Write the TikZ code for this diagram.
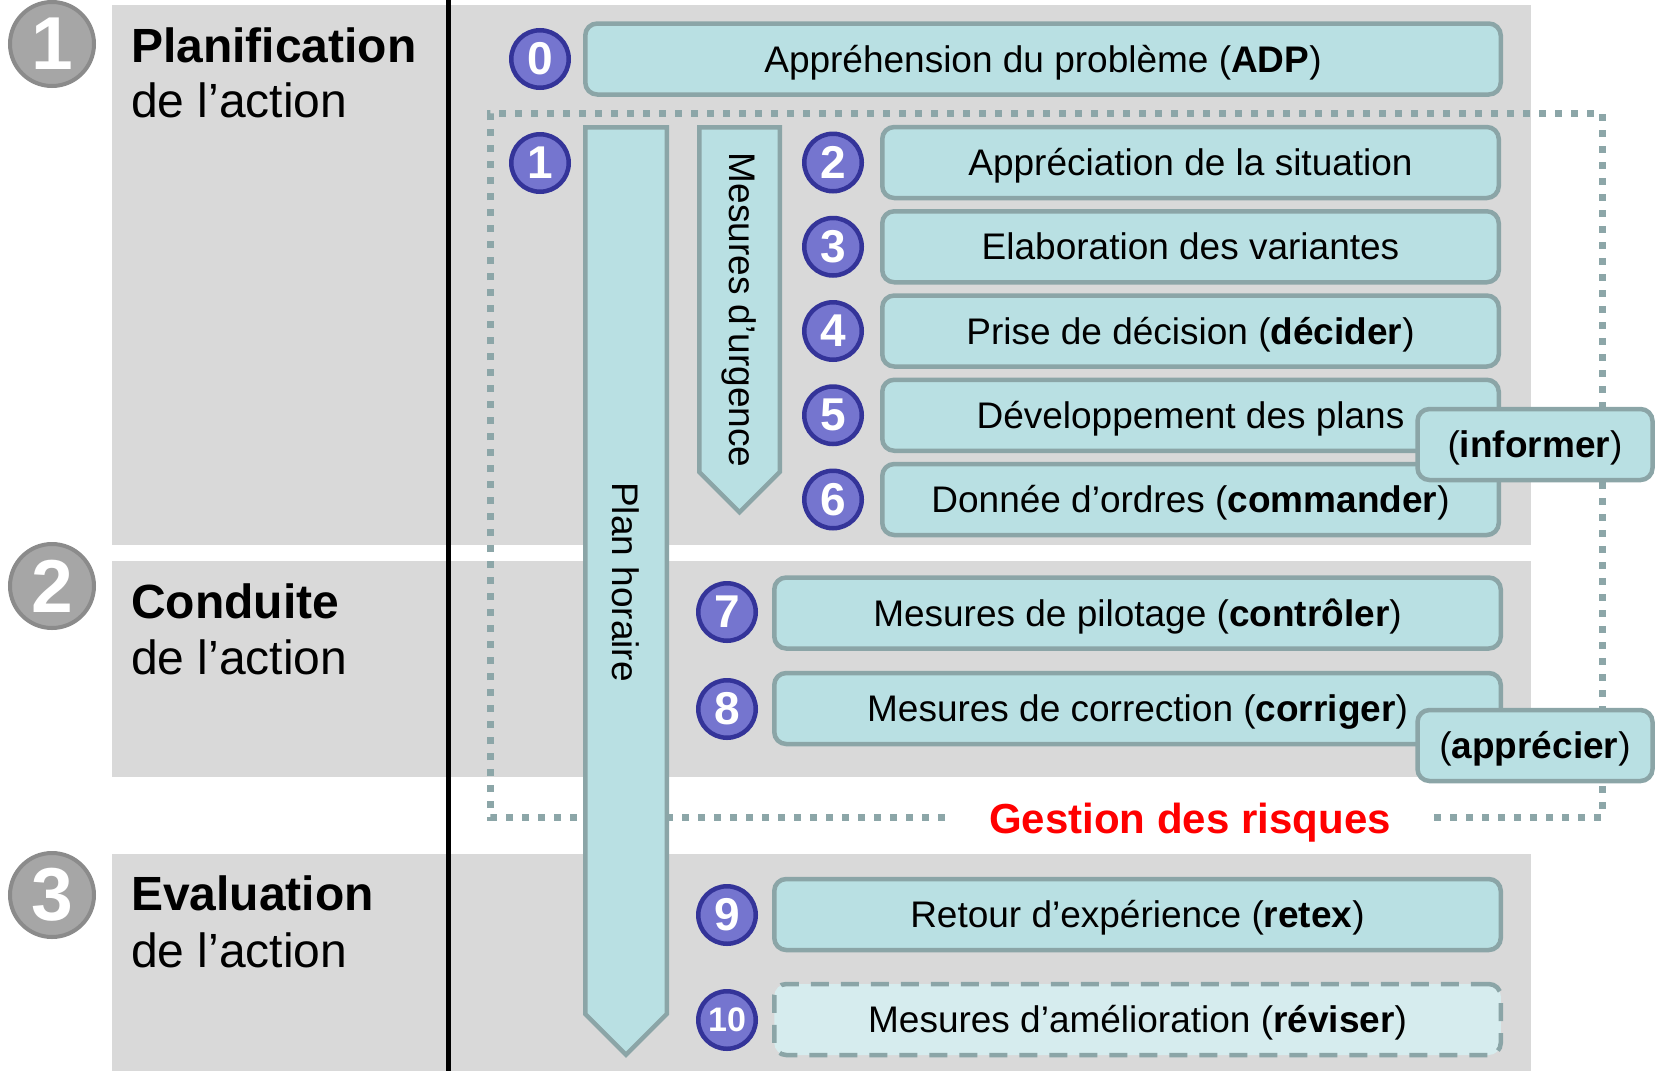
\documentclass[tikz,border=0pt]{standalone}
\usepackage{fontspec}
\setmainfont{Liberation Sans}
\newcommand{\fs}[1]{\fontsize{#1}{#1}\selectfont}
\definecolor{bandgray}{HTML}{D9D9D9}
\definecolor{bxfill}{HTML}{B9E0E3}
\definecolor{bxline}{HTML}{8BA5A7}
\definecolor{bxlight}{HTML}{D6ECEE}
\definecolor{purfill}{HTML}{7575CF}
\definecolor{purline}{HTML}{343499}
\definecolor{grfill}{HTML}{A6A6A6}
\definecolor{grline}{HTML}{8B8B8B}
\definecolor{dotline}{HTML}{8CA6A8}
\begin{document}
\begin{tikzpicture}[x=1pt,y=-1pt,
  band/.style={fill=bandgray, draw=none},
  bx/.style={draw=bxline, fill=bxfill, line width=4.5pt, rounded corners=12pt,
    inner sep=0pt, minimum height=71pt, font=\fs{37}, text=black, text depth=1pt},
  bxdash/.style={bx, fill=bxlight, dash pattern=on 18pt off 12pt},
  numc/.style={circle, draw=purline, fill=purfill, line width=4.5pt, minimum size=57.5pt,
    inner sep=0pt, text=white, font=\fs{46}\bfseries},
  bigc/.style={circle, draw=grline, fill=grfill, line width=4pt, minimum size=84pt,
    inner sep=0pt, text=white, font=\fs{75}\bfseries},
  arrowbody/.style={draw=bxline, fill=bxfill, line width=4.5pt},
  vtext/.style={rotate=-90, font=\fs{37}, inner sep=0pt},
  title/.style={anchor=base west, font=\fs{48}\bfseries, inner sep=0pt},
  subtitle/.style={anchor=base west, font=\fs{48}, inner sep=0pt},
  riskline/.style={draw=dotline, line width=7pt, dash pattern=on 7pt off 9pt}
]
\useasboundingbox (0,0) rectangle (1656,1071);
% bands
\fill[band] (112,5) rectangle (1531,545);
\fill[band] (112,561) rectangle (1531,777);
\fill[band] (112,854) rectangle (1531,1071);
% separator
\draw[line width=4.5pt] (448.5,0) -- (448.5,1071);
% big phase circles
\node[bigc] (p1) at (52,44) {1};
\node[bigc] (p2) at (52,586) {2};
\node[bigc] (p3) at (52,895) {3};
% titles
\node[title] (t1) at (131,62) {Planification};
\node[subtitle] (s1) at (131,117) {de l’action};
\node[title] (t2) at (131,618) {Conduite};
\node[subtitle] (s2) at (131,674) {de l’action};
\node[title] (t3) at (131,910) {Evaluation};
\node[subtitle] (s3) at (131,967) {de l’action};
% risk management frame
\draw[riskline] (945,817) -- (490,817) -- (490,113) -- (1602,113) -- (1602,817) -- (1434,817);
% step 0
\node[numc] (c0) at (540,59) {0};
\node[bx, minimum width=915.5pt] (b0) at (1043,59) {Appréhension du problème (\textbf{ADP})};
% step 1
\node[numc] (c1) at (540,163) {1};
% steps 2-6
\node[numc] (c2) at (833,162.5) {2};
\node[numc] (c3) at (833,246.75) {3};
\node[numc] (c4) at (833,331) {4};
\node[numc] (c5) at (833,415.25) {5};
\node[numc] (c6) at (833,499.5) {6};
\node[bx, minimum width=616.5pt] (b2) at (1190.5,162.5) {Appréciation de la situation};
\node[bx, minimum width=616.5pt] (b3) at (1190.5,246.75) {Elaboration des variantes};
\node[bx, minimum width=616.5pt] (b4) at (1190.5,331) {Prise de décision (\textbf{décider})};
\node[bx, minimum width=616.5pt] (b5) at (1190.5,415.25) {Développement des plans};
\node[bx, minimum width=616.5pt] (b6) at (1190.5,499.5) {Donnée d’ordres (\textbf{commander})};
% steps 7-10
\node[numc] (c7) at (727,612) {7};
\node[numc] (c8) at (727,709) {8};
\node[numc] (c9) at (727,915) {9};
\node[numc, font=\fs{34}\bfseries] (c10) at (727,1020) {10};
\node[bx, minimum width=726.5pt] (b7) at (1137.5,613) {Mesures de pilotage (\textbf{contrôler})};
\node[bx, minimum width=726.5pt] (b8) at (1137.5,708.5) {Mesures de correction (\textbf{corriger})};
\node[bx, minimum width=726.5pt] (b9) at (1137.5,914.5) {Retour d’expérience (\textbf{retex})};
\node[bxdash, minimum width=726.5pt] (b10) at (1137.5,1019.5) {Mesures d’amélioration (\textbf{réviser})};
% vertical arrows
\draw[arrowbody] (585.25,127.25) -- (666.75,127.25) -- (666.75,1014) -- (626,1054.75) -- (585.25,1014) -- cycle;
\node[vtext] (ph) at (626,582) {Plan horaire};
\draw[arrowbody] (699.25,127.25) -- (779.75,127.25) -- (779.75,472) -- (739.5,512.25) -- (699.25,472) -- cycle;
\node[vtext] (mu) at (739.5,310) {Mesures d’urgence};
% side tags
\node[bx, minimum width=235pt] (inf) at (1535,444.5) {(\textbf{informer})};
\node[bx, minimum width=235pt] (app) at (1535,745.5) {(\textbf{apprécier})};
% label
\node[font=\fs{42}\bfseries, text=red, inner sep=0pt, text depth=2pt] (gr) at (1190,819) {Gestion des risques};
\end{tikzpicture}
\end{document}
